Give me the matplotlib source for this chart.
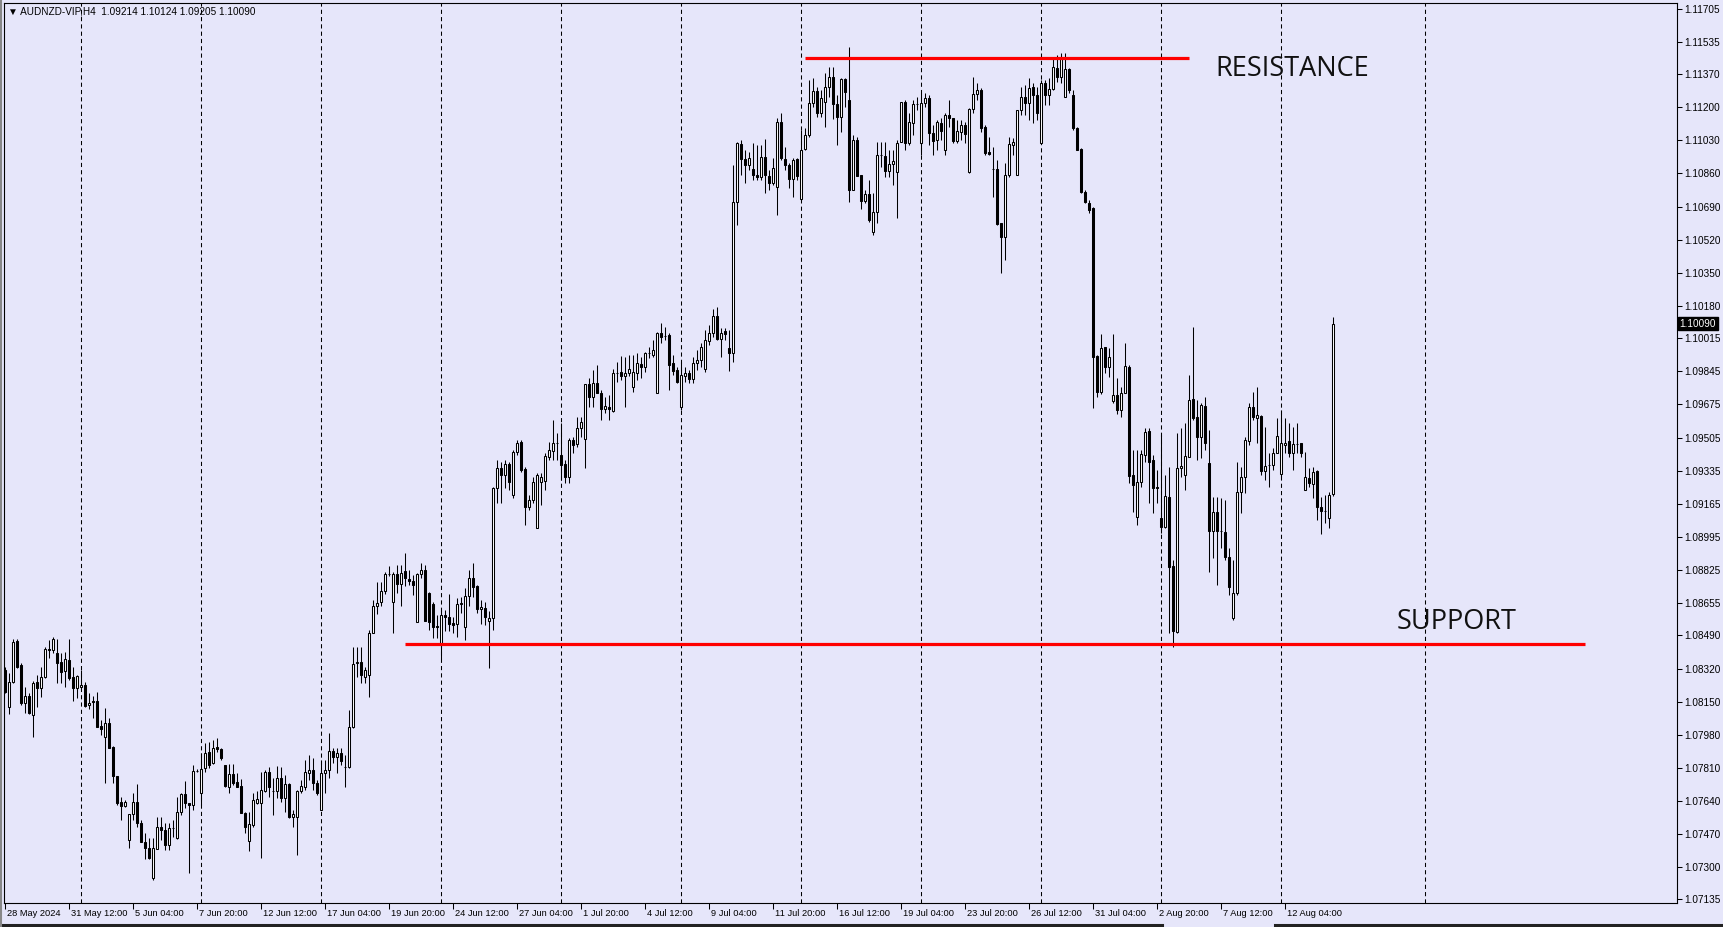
import matplotlib
matplotlib.use("Agg")
import matplotlib.pyplot as plt
from matplotlib.lines import Line2D
import matplotlib.transforms as mtransforms

plt.rcParams['font.family'] = ['Liberation Sans', 'DejaVu Sans']

# ---------------- data ----------------
symbol_title = "AUDNZD-VIP,H4"
last_ohlc = ["1.09214", "1.10124", "1.09205", "1.10090"]
current_price = 1.10090

opens = [
    1.08312, 1.08122, 1.08251, 1.08461, 1.08338, 1.08143, 1.08179, 1.08081, 1.08251, 1.08220,
    1.08276, 1.08420, 1.08415, 1.08400, 1.08353, 1.08307, 1.08364, 1.08276, 1.08220, 1.08225,
    1.08235, 1.08133, 1.08153, 1.08153, 1.08025, 1.07969, 1.08040, 1.07917, 1.07768, 1.07635,
    1.07614, 1.07440, 1.07573, 1.07635, 1.07527, 1.07430, 1.07399, 1.07245, 1.07394, 1.07507,
    1.07491, 1.07414, 1.07502, 1.07450, 1.07584, 1.07676, 1.07630, 1.07620, 1.07794, 1.07681,
    1.07809, 1.07892, 1.07835, 1.07917, 1.07907, 1.07825, 1.07712, 1.07779, 1.07738, 1.07717,
    1.07579, 1.07435, 1.07517, 1.07630, 1.07630, 1.07691, 1.07789, 1.07691, 1.07691, 1.07758,
    1.07656, 1.07727, 1.07558, 1.07558, 1.07691, 1.07712, 1.07784, 1.07799, 1.07732, 1.07594,
    1.07784, 1.07799, 1.07897, 1.07866, 1.07886, 1.07815, 1.07815, 1.08020, 1.08348, 1.08353,
    1.08276, 1.08287, 1.08502, 1.08641, 1.08661, 1.08718, 1.08805, 1.08661, 1.08805, 1.08754,
    1.08820, 1.08779, 1.08769, 1.08559, 1.08805, 1.08825, 1.08707, 1.08651, 1.08538, 1.08451,
    1.08594, 1.08584, 1.08553, 1.08548, 1.08651, 1.08533, 1.08692, 1.08784, 1.08743, 1.08625,
    1.08630, 1.08564, 1.08579, 1.09246, 1.09349, 1.09313, 1.09369, 1.09210, 1.09431, 1.09482,
    1.09344, 1.09149, 1.09185, 1.09041, 1.09277, 1.09282, 1.09405, 1.09436, 1.09477, 1.09415,
    1.09369, 1.09303, 1.09492, 1.09472, 1.09554, 1.09498, 1.09780, 1.09713, 1.09785, 1.09734,
    1.09651, 1.09662, 1.09641, 1.09836, 1.09841, 1.09821, 1.09836, 1.09764, 1.09836, 1.09882,
    1.09867, 1.09939, 1.09929, 1.09734, 1.10041, 1.10026, 1.10031, 1.09887, 1.09852, 1.09662,
    1.09821, 1.09836, 1.09805, 1.09887, 1.09903, 1.09857, 1.10000, 1.10041, 1.10129, 1.10011,
    1.10052, 1.09964, 1.09939, 1.10714, 1.11011, 1.10934, 1.10903, 1.10883, 1.10852, 1.10842,
    1.10944, 1.10847, 1.10811, 1.10791, 1.11124, 1.10934, 1.10903, 1.10832, 1.10934, 1.10729,
    1.10986, 1.11057, 1.11222, 1.11283, 1.11170, 1.11227, 1.11304, 1.11355, 1.11216, 1.11150,
    1.11345, 1.11237, 1.10775, 1.11032, 1.10852, 1.10719, 1.10755, 1.10560, 1.10662, 1.10955,
    1.10950, 1.10873, 1.10909, 1.10868, 1.11021, 1.11227, 1.11016, 1.11119, 1.11216, 1.11016,
    1.11222, 1.11247, 1.11068, 1.11032, 1.11119, 1.10980, 1.11160, 1.11145, 1.11027, 1.11073,
    1.11109, 1.10868, 1.11191, 1.11268, 1.11288, 1.11098, 1.10970, 1.10883, 1.10883, 1.10606,
    1.10534, 1.10852, 1.11006, 1.10852, 1.11186, 1.11252, 1.11222, 1.11304, 1.11263, 1.11016,
    1.11324, 1.11263, 1.11293, 1.11401, 1.11355, 1.11252, 1.11396, 1.11263, 1.11093, 1.10986,
    1.10765, 1.10708, 1.10683, 1.09923, 1.09739, 1.09970, 1.09867, 1.09693, 1.09723, 1.09646,
    1.09734, 1.09867, 1.09313, 1.09097, 1.09277, 1.09415, 1.09539, 1.09390, 1.09251, 1.09092,
    1.09046, 1.09200, 1.08846, 1.08507, 1.09349, 1.09313, 1.09405, 1.09703, 1.09610, 1.09508,
    1.09667, 1.09374, 1.09025, 1.09123, 1.09025, 1.09020, 1.08892, 1.08579, 1.08707, 1.09226,
    1.09303, 1.09487, 1.09662, 1.09605, 1.09616, 1.09333, 1.09364, 1.09364, 1.09426, 1.09318,
    1.09467, 1.09487, 1.09426, 1.09472, 1.09477, 1.09236, 1.09297, 1.09267, 1.09333, 1.09149,
    1.09128, 1.09092, 1.09214,
]

highs = [
    1.08328, 1.08297, 1.08471, 1.08471, 1.08348, 1.08225, 1.08194, 1.08256, 1.08287, 1.08328,
    1.08430, 1.08466, 1.08482, 1.08471, 1.08400, 1.08405, 1.08471, 1.08328, 1.08287, 1.08312,
    1.08251, 1.08194, 1.08179, 1.08199, 1.08056, 1.08117, 1.08066, 1.07922, 1.07768, 1.07661,
    1.07645, 1.07573, 1.07681, 1.07727, 1.07543, 1.07476, 1.07450, 1.07450, 1.07558, 1.07558,
    1.07527, 1.07527, 1.07543, 1.07661, 1.07681, 1.07743, 1.07630, 1.07825, 1.07804, 1.07886,
    1.07938, 1.07943, 1.07953, 1.07963, 1.07912, 1.07825, 1.07830, 1.07830, 1.07784, 1.07753,
    1.07584, 1.07584, 1.07681, 1.07691, 1.07789, 1.07799, 1.07815, 1.07758, 1.07820, 1.07815,
    1.07774, 1.07732, 1.07594, 1.07697, 1.07748, 1.07850, 1.07876, 1.07861, 1.07748, 1.07850,
    1.07850, 1.07989, 1.07912, 1.07912, 1.07912, 1.07876, 1.08107, 1.08430, 1.08430, 1.08430,
    1.08328, 1.08518, 1.08671, 1.08764, 1.08764, 1.08815, 1.08846, 1.08815, 1.08851, 1.08851,
    1.08913, 1.08825, 1.08800, 1.08810, 1.08861, 1.08851, 1.08712, 1.08661, 1.08594, 1.08620,
    1.08620, 1.08702, 1.08584, 1.08682, 1.08687, 1.08733, 1.08825, 1.08861, 1.08748, 1.08671,
    1.08661, 1.08615, 1.09251, 1.09390, 1.09380, 1.09390, 1.09380, 1.09441, 1.09492, 1.09492,
    1.09354, 1.09210, 1.09303, 1.09323, 1.09323, 1.09426, 1.09482, 1.09595, 1.09528, 1.09580,
    1.09390, 1.09503, 1.09508, 1.09610, 1.09610, 1.09780, 1.09811, 1.09852, 1.09877, 1.09749,
    1.09713, 1.09723, 1.09857, 1.09893, 1.09923, 1.09918, 1.09929, 1.09929, 1.09939, 1.09918,
    1.09944, 1.09970, 1.10006, 1.10047, 1.10093, 1.10072, 1.10041, 1.09929, 1.09867, 1.09893,
    1.09867, 1.09852, 1.09918, 1.09954, 1.09990, 1.10057, 1.10082, 1.10165, 1.10175, 1.10067,
    1.10067, 1.10057, 1.10903, 1.11021, 1.11032, 1.10980, 1.10970, 1.11016, 1.11006, 1.11006,
    1.11037, 1.10878, 1.10939, 1.11145, 1.11170, 1.10996, 1.10914, 1.10939, 1.10939, 1.11083,
    1.11093, 1.11340, 1.11350, 1.11304, 1.11288, 1.11375, 1.11406, 1.11406, 1.11263, 1.11350,
    1.11350, 1.11509, 1.11057, 1.11047, 1.10852, 1.10775, 1.10826, 1.10760, 1.11021, 1.11021,
    1.11021, 1.10980, 1.10980, 1.11032, 1.11227, 1.11237, 1.11170, 1.11237, 1.11252, 1.11273,
    1.11273, 1.11263, 1.11109, 1.11134, 1.11145, 1.11170, 1.11237, 1.11145, 1.11134, 1.11134,
    1.11124, 1.11196, 1.11355, 1.11324, 1.11299, 1.11109, 1.11047, 1.10996, 1.10929, 1.10606,
    1.10914, 1.11047, 1.11042, 1.11186, 1.11304, 1.11314, 1.11350, 1.11324, 1.11304, 1.11340,
    1.11340, 1.11350, 1.11452, 1.11468, 1.11478, 1.11478, 1.11401, 1.11288, 1.11098, 1.10991,
    1.10775, 1.10724, 1.10688, 1.09929, 1.10036, 1.09970, 1.09964, 1.10036, 1.09811, 1.09764,
    1.09990, 1.09877, 1.09441, 1.09441, 1.09441, 1.09554, 1.09554, 1.09415, 1.09338, 1.09518,
    1.09313, 1.09354, 1.08877, 1.09528, 1.09554, 1.09580, 1.09826, 1.10072, 1.09698, 1.09682,
    1.09713, 1.09544, 1.09200, 1.09200, 1.09195, 1.09185, 1.08938, 1.08877, 1.09380, 1.09354,
    1.09508, 1.09682, 1.09739, 1.09764, 1.09621, 1.09559, 1.09426, 1.09451, 1.09605, 1.09646,
    1.09605, 1.09580, 1.09559, 1.09580, 1.09477, 1.09431, 1.09349, 1.09354, 1.09338, 1.09200,
    1.09210, 1.09226, 1.10124,
]

lows = [
    1.08194, 1.08087, 1.08246, 1.08323, 1.08133, 1.08092, 1.08087, 1.07969, 1.08122, 1.08174,
    1.08271, 1.08374, 1.08400, 1.08246, 1.08246, 1.08225, 1.08261, 1.08153, 1.08169, 1.08215,
    1.08122, 1.08112, 1.08066, 1.08020, 1.07979, 1.07732, 1.07912, 1.07732, 1.07620, 1.07543,
    1.07609, 1.07399, 1.07543, 1.07507, 1.07430, 1.07343, 1.07343, 1.07235, 1.07394, 1.07440,
    1.07389, 1.07389, 1.07455, 1.07445, 1.07568, 1.07604, 1.07271, 1.07594, 1.07789, 1.07620,
    1.07789, 1.07809, 1.07830, 1.07892, 1.07850, 1.07712, 1.07681, 1.07722, 1.07712, 1.07579,
    1.07476, 1.07384, 1.07507, 1.07625, 1.07348, 1.07686, 1.07661, 1.07568, 1.07656, 1.07635,
    1.07584, 1.07553, 1.07507, 1.07363, 1.07681, 1.07697, 1.07748, 1.07697, 1.07671, 1.07594,
    1.07681, 1.07758, 1.07835, 1.07784, 1.07825, 1.07712, 1.07809, 1.08015, 1.08276, 1.08246,
    1.08246, 1.08174, 1.08502, 1.08600, 1.08641, 1.08702, 1.08795, 1.08502, 1.08707, 1.08641,
    1.08743, 1.08748, 1.08697, 1.08559, 1.08784, 1.08564, 1.08518, 1.08476, 1.08476, 1.08369,
    1.08512, 1.08512, 1.08502, 1.08482, 1.08605, 1.08466, 1.08641, 1.08687, 1.08605, 1.08548,
    1.08543, 1.08323, 1.08518, 1.09169, 1.09169, 1.09246, 1.09236, 1.09195, 1.09415, 1.09328,
    1.09056, 1.09133, 1.09169, 1.09041, 1.09159, 1.09236, 1.09390, 1.09390, 1.09390, 1.09287,
    1.09272, 1.09272, 1.09426, 1.09456, 1.09508, 1.09349, 1.09662, 1.09662, 1.09734, 1.09595,
    1.09631, 1.09595, 1.09636, 1.09790, 1.09800, 1.09662, 1.09821, 1.09739, 1.09800, 1.09811,
    1.09841, 1.09913, 1.09918, 1.09734, 1.09990, 1.10006, 1.09749, 1.09826, 1.09785, 1.09646,
    1.09790, 1.09785, 1.09785, 1.09852, 1.09867, 1.09841, 1.09980, 1.10021, 1.10006, 1.09918,
    1.10006, 1.09846, 1.09893, 1.10596, 1.10852, 1.10811, 1.10878, 1.10826, 1.10826, 1.10826,
    1.10760, 1.10775, 1.10801, 1.10647, 1.10929, 1.10878, 1.10785, 1.10739, 1.10826, 1.10724,
    1.10980, 1.11047, 1.11201, 1.11150, 1.11150, 1.11098, 1.11252, 1.11139, 1.11006, 1.11073,
    1.11201, 1.10714, 1.10775, 1.10847, 1.10678, 1.10708, 1.10611, 1.10544, 1.10606, 1.10893,
    1.10842, 1.10842, 1.10801, 1.10631, 1.11021, 1.10980, 1.11006, 1.11057, 1.11186, 1.10955,
    1.11201, 1.11006, 1.10955, 1.10980, 1.11032, 1.10955, 1.11098, 1.11016, 1.11016, 1.11032,
    1.11016, 1.10862, 1.11170, 1.11237, 1.11073, 1.10955, 1.10955, 1.10739, 1.10596, 1.10349,
    1.10416, 1.10842, 1.10955, 1.10852, 1.11160, 1.11160, 1.11134, 1.11119, 1.11134, 1.11016,
    1.11211, 1.11211, 1.11288, 1.11329, 1.11324, 1.11252, 1.11273, 1.11083, 1.10980, 1.10760,
    1.10708, 1.10657, 1.09657, 1.09713, 1.09728, 1.09836, 1.09816, 1.09682, 1.09626, 1.09610,
    1.09734, 1.09272, 1.09123, 1.09056, 1.09251, 1.09380, 1.09169, 1.09118, 1.09169, 1.09015,
    1.09041, 1.08502, 1.08430, 1.08502, 1.09303, 1.09236, 1.09405, 1.09595, 1.09390, 1.09400,
    1.09441, 1.08815, 1.08887, 1.08748, 1.08938, 1.08877, 1.08697, 1.08569, 1.08697, 1.09118,
    1.09220, 1.09467, 1.09595, 1.09477, 1.09313, 1.09287, 1.09251, 1.09338, 1.09426, 1.09303,
    1.09426, 1.09405, 1.09338, 1.09426, 1.09405, 1.09236, 1.09251, 1.09195, 1.09082, 1.09010,
    1.09067, 1.09041, 1.09205,
]

closes = [
    1.08199, 1.08251, 1.08456, 1.08328, 1.08143, 1.08179, 1.08092, 1.08246, 1.08220, 1.08276,
    1.08420, 1.08415, 1.08471, 1.08348, 1.08302, 1.08369, 1.08271, 1.08220, 1.08281, 1.08235,
    1.08128, 1.08143, 1.08148, 1.08020, 1.08010, 1.08040, 1.07912, 1.07768, 1.07630, 1.07614,
    1.07635, 1.07573, 1.07635, 1.07527, 1.07430, 1.07399, 1.07348, 1.07399, 1.07507, 1.07491,
    1.07414, 1.07502, 1.07502, 1.07584, 1.07676, 1.07630, 1.07620, 1.07794, 1.07794, 1.07804,
    1.07886, 1.07825, 1.07912, 1.07907, 1.07861, 1.07717, 1.07779, 1.07732, 1.07712, 1.07579,
    1.07507, 1.07522, 1.07645, 1.07650, 1.07697, 1.07789, 1.07712, 1.07691, 1.07758, 1.07656,
    1.07727, 1.07558, 1.07573, 1.07691, 1.07717, 1.07789, 1.07799, 1.07732, 1.07681, 1.07784,
    1.07799, 1.07897, 1.07866, 1.07886, 1.07845, 1.07815, 1.08020, 1.08343, 1.08353, 1.08287,
    1.08312, 1.08502, 1.08641, 1.08656, 1.08718, 1.08805, 1.08805, 1.08805, 1.08754, 1.08810,
    1.08784, 1.08769, 1.08748, 1.08805, 1.08825, 1.08564, 1.08559, 1.08533, 1.08533, 1.08594,
    1.08584, 1.08548, 1.08543, 1.08651, 1.08656, 1.08692, 1.08784, 1.08738, 1.08625, 1.08636,
    1.08584, 1.08579, 1.09246, 1.09349, 1.09313, 1.09369, 1.09277, 1.09431, 1.09477, 1.09338,
    1.09149, 1.09185, 1.09277, 1.09313, 1.09303, 1.09410, 1.09441, 1.09477, 1.09477, 1.09364,
    1.09303, 1.09492, 1.09467, 1.09554, 1.09585, 1.09780, 1.09713, 1.09785, 1.09734, 1.09651,
    1.09667, 1.09651, 1.09836, 1.09836, 1.09821, 1.09836, 1.09857, 1.09841, 1.09887, 1.09867,
    1.09939, 1.09939, 1.09954, 1.10041, 1.10021, 1.10026, 1.09877, 1.09846, 1.09790, 1.09826,
    1.09836, 1.09805, 1.09887, 1.09903, 1.09970, 1.10006, 1.10041, 1.10129, 1.10011, 1.10041,
    1.10036, 1.09939, 1.10714, 1.11016, 1.10934, 1.10903, 1.10939, 1.10852, 1.10842, 1.10944,
    1.10852, 1.10811, 1.10888, 1.11124, 1.10939, 1.10903, 1.10832, 1.10929, 1.10847, 1.10980,
    1.11057, 1.11222, 1.11283, 1.11170, 1.11247, 1.11304, 1.11355, 1.11216, 1.11150, 1.11345,
    1.11278, 1.10775, 1.11032, 1.10847, 1.10719, 1.10755, 1.10621, 1.10662, 1.10955, 1.10955,
    1.10873, 1.10909, 1.10924, 1.11016, 1.11227, 1.11016, 1.11124, 1.11216, 1.11216, 1.11222,
    1.11247, 1.11068, 1.11027, 1.11124, 1.11078, 1.11160, 1.11145, 1.11027, 1.11078, 1.11109,
    1.11062, 1.11191, 1.11268, 1.11288, 1.11093, 1.10965, 1.10960, 1.10883, 1.10601, 1.10534,
    1.10852, 1.11011, 1.11021, 1.11186, 1.11252, 1.11222, 1.11299, 1.11263, 1.11170, 1.11324,
    1.11263, 1.11293, 1.11406, 1.11355, 1.11458, 1.11396, 1.11288, 1.11093, 1.10980, 1.10765,
    1.10714, 1.10673, 1.09918, 1.09739, 1.09964, 1.09867, 1.09918, 1.09723, 1.09646, 1.09734,
    1.09872, 1.09308, 1.09262, 1.09277, 1.09420, 1.09533, 1.09380, 1.09246, 1.09246, 1.09046,
    1.09205, 1.08841, 1.08512, 1.09349, 1.09359, 1.09410, 1.09698, 1.09605, 1.09508, 1.09672,
    1.09477, 1.09025, 1.09123, 1.09025, 1.09025, 1.08892, 1.08738, 1.08707, 1.09226, 1.09303,
    1.09492, 1.09662, 1.09610, 1.09621, 1.09333, 1.09359, 1.09364, 1.09426, 1.09513, 1.09477,
    1.09477, 1.09426, 1.09472, 1.09472, 1.09426, 1.09303, 1.09272, 1.09328, 1.09149, 1.09128,
    1.09128, 1.09210, 1.10090,
]

date_labels = ["28 May 2024", "31 May 12:00", "5 Jun 04:00", "7 Jun 20:00", "12 Jun 12:00",
               "17 Jun 04:00", "19 Jun 20:00", "24 Jun 12:00", "27 Jun 04:00", "1 Jul 20:00",
               "4 Jul 12:00", "9 Jul 04:00", "11 Jul 20:00", "16 Jul 12:00", "19 Jul 04:00",
               "23 Jul 20:00", "26 Jul 12:00", "31 Jul 04:00", "2 Aug 20:00", "7 Aug 12:00",
               "12 Aug 04:00"]
bars_per_date_label = 16
week_start_bars = [19, 49, 79, 109, 139, 169, 199, 229, 259, 289, 319, 355]

price_labels = ["1.11705", "1.11535", "1.11370", "1.11200", "1.11030", "1.10860", "1.10690",
                "1.10520", "1.10350", "1.10180", "1.10015", "1.09845", "1.09675", "1.09505",
                "1.09335", "1.09165", "1.08995", "1.08825", "1.08655", "1.08490", "1.08320",
                "1.08150", "1.07980", "1.07810", "1.07640", "1.07470", "1.07300", "1.07135"]

resistance_level = 1.11451
resistance_bars = (200, 296)
support_level = 1.08445
support_bars = (100, 395)

# ---------------- figure ----------------
W, H = 1724, 927
BG = '#E6E6FA'
fig = plt.figure(figsize=(W / 100, H / 100), dpi=100, facecolor=BG)
ax_l, ax_r, ax_t, ax_b = 4, 1677, 3, 903
ax = fig.add_axes([ax_l / W, 1 - ax_b / H, (ax_r - ax_l) / W, (ax_b - ax_t) / H])
ax.set_facecolor(BG)

px_per_bar = 4.0
first_bar_px = 5.3
xmin = -(first_bar_px - ax_l) / px_per_bar
xmax = xmin + (ax_r - ax_l) / px_per_bar
ax.set_xlim(xmin, xmax)
ax.set_ylim(1.071169, 1.117348)

n = len(closes)
xs = list(range(n))

# separators
for b in week_start_bars:
    ax.axvline(b, color='black', lw=0.75, linestyle=(0, (4, 3)), zorder=1)

# wicks
hi = [max(h, o, c) for h, o, c in zip(highs, opens, closes)]
lo = [min(l, o, c) for l, o, c in zip(lows, opens, closes)]
ax.vlines(xs, lo, hi, color='black', lw=0.75, zorder=2)

# bodies
up_x, up_b, up_h, dn_x, dn_b, dn_h = [], [], [], [], [], []
for i, (o, c) in enumerate(zip(opens, closes)):
    if c >= o:
        up_x.append(i); up_b.append(o); up_h.append(c - o)
    else:
        dn_x.append(i); dn_b.append(c); dn_h.append(o - c)
ax.bar(up_x, up_h, bottom=up_b, width=0.5, color='white', edgecolor='black',
       linewidth=0.75, zorder=3)
ax.bar(dn_x, dn_h, bottom=dn_b, width=0.5, color='black', edgecolor='black',
       linewidth=0.75, zorder=3)

# support / resistance
ax.plot(resistance_bars, [resistance_level] * 2, color='#ff0000', lw=2.3, zorder=4,
        solid_capstyle='butt')
ax.plot(support_bars, [support_level] * 2, color='#ff0000', lw=2.3, zorder=4,
        solid_capstyle='butt')
ax.text(302.5, 1.113602, "RESISTANCE", fontsize=19.5, family=['Open Sans', 'DejaVu Sans'],
        color='#111111', ha='left', va='baseline', zorder=5)
ax.text(347.8, 1.085228, "SUPPORT", fontsize=19.5, family=['Open Sans', 'DejaVu Sans'],
        color='#111111', ha='left', va='baseline', zorder=5)

# y axis on the right
ax.yaxis.tick_right()
ax.set_yticks([float(s) for s in price_labels])
ax.set_yticklabels(price_labels)
ax.tick_params(axis='y', direction='out', length=3.5, width=0.75, pad=1.5,
               labelsize=7.2, colors='black')

# x axis
ax.set_xticks([i * bars_per_date_label for i in range(len(date_labels))])
ax.set_xticklabels(date_labels)
ax.tick_params(axis='x', direction='out', length=4, width=0.75, pad=0.5,
               labelsize=6.7, colors='black')
offset = mtransforms.ScaledTranslation(2 / 100, 0, fig.dpi_scale_trans)
for lab in ax.get_xticklabels():
    lab.set_horizontalalignment('left')
    lab.set_transform(lab.get_transform() + offset)

for sp in ax.spines.values():
    sp.set_linewidth(0.8)
    sp.set_color('black')

# current price box
trans = mtransforms.blended_transform_factory(ax.transAxes, ax.transData)
ax.text(1.0015, current_price, "1.10090", transform=trans, fontsize=7.2, color='white',
        ha='left', va='center', zorder=6,
        bbox=dict(boxstyle='square,pad=0.15', facecolor='black', edgecolor='black'))

# header
ax.text(4 / (ax_r - ax_l), 1 - 8.5 / (ax_b - ax_t),
        "\u25bc " + symbol_title + "  " + " ".join(last_ohlc),
        transform=ax.transAxes, fontsize=7.2, ha='left', va='center', color='black',
        family=['Liberation Sans', 'DejaVu Sans'], zorder=6)

# window frame bits
fig.add_artist(Line2D([0, 1162 / W], [1 - 925 / H] * 2, color='#222222', lw=2.2))
fig.add_artist(Line2D([1275 / W, 1], [1 - 925 / H] * 2, color='#222222', lw=2.2))
fig.add_artist(Line2D([1.5 / W] * 2, [0, 1], color='#888888', lw=1.5))

fig.savefig("out.png", dpi=100, facecolor=BG)
